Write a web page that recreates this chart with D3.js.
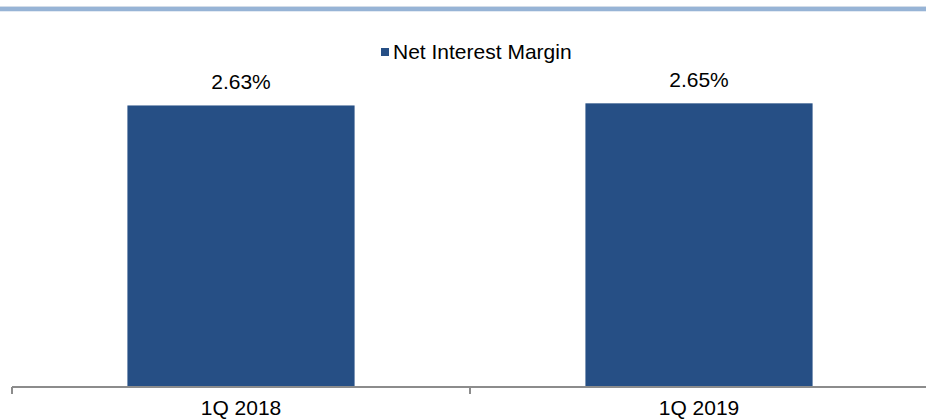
<!DOCTYPE html>
<html>
<head>
<meta charset="utf-8">
<script src="https://cdn.jsdelivr.net/npm/d3@7"></script>
<style>
  body { margin: 0; background: #fff; }
  text { font-family: "Liberation Sans", Arial, sans-serif; fill: #000; }
</style>
</head>
<body>
<div id="chart"></div>
<script>
var width = 926,
    height = 420;

// data
var categories = ['1Q 2018', '1Q 2019'];
var values = [2.63, 2.65];
var seriesName = 'Net Interest Margin';

var barColor = '#264f85';

var svg = d3.select('#chart').append('svg')
    .attr('width', width)
    .attr('height', height);

// header rule at the top
svg.append('rect')
    .attr('x', 0).attr('y', 6)
    .attr('width', width).attr('height', 1)
    .attr('fill', '#d3dde9');
svg.append('rect')
    .attr('x', 0).attr('y', 7)
    .attr('width', width).attr('height', 4)
    .attr('fill', '#97b4d6');
svg.append('rect')
    .attr('x', 0).attr('y', 11)
    .attr('width', width).attr('height', 1)
    .attr('fill', '#e3eaf3');

var xScale = d3.scaleBand()
    .domain(categories)
    .range([12, 928])
    .paddingInner(0.504)
    .paddingOuter(0.252);

var yScale = d3.scaleLinear()
    .domain([0, 3])
    .range([386, 66]);

// bars
svg.selectAll('.bar')
    .data(values)
    .enter().append('rect')
    .attr('class', 'bar')
    .attr('x', function(d, i) { return xScale(categories[i]); })
    .attr('y', function(d) { return yScale(d); })
    .attr('width', xScale.bandwidth())
    .attr('height', function(d) { return yScale(0) - yScale(d); })
    .attr('fill', barColor);

// value labels
svg.selectAll('.value')
    .data(values)
    .enter().append('text')
    .attr('class', 'value')
    .attr('x', function(d, i) { return xScale(categories[i]) + xScale.bandwidth() / 2; })
    .attr('y', function(d) { return yScale(d) - 16; })
    .attr('text-anchor', 'middle')
    .attr('font-size', '21px')
    .text(function(d) { return d.toFixed(2) + '%'; });

// x axis line and ticks at category boundaries
var axisY = 387;
var r = xScale.range();
svg.append('line')
    .attr('x1', r[0]).attr('x2', r[1])
    .attr('y1', axisY).attr('y2', axisY)
    .attr('stroke', '#8c8c8c')
    .attr('stroke-width', 2);

var tickXs = d3.range(categories.length + 1).map(function(i) { return r[0] + i * xScale.step(); });
svg.selectAll('.tick')
    .data(tickXs)
    .enter().append('line')
    .attr('class', 'tick')
    .attr('x1', function(d) { return d; })
    .attr('x2', function(d) { return d; })
    .attr('y1', axisY)
    .attr('y2', axisY + 7)
    .attr('stroke', '#8c8c8c')
    .attr('stroke-width', 2);

// category labels (kept just inside the bottom edge)
svg.selectAll('.cat')
    .data(categories)
    .enter().append('text')
    .attr('class', 'cat')
    .attr('x', function(d) { return xScale(d) + xScale.bandwidth() / 2; })
    .attr('y', 415)
    .attr('text-anchor', 'middle')
    .attr('font-size', '21px')
    .text(function(d) { return d; });

// legend
var legend = svg.append('g').attr('transform', 'translate(381,48)');
legend.append('rect')
    .attr('width', 8).attr('height', 8)
    .attr('fill', barColor);
legend.append('text')
    .attr('x', 12)
    .attr('y', 11)
    .attr('font-size', '21px')
    .text(seriesName);
</script>
</body>
</html>
